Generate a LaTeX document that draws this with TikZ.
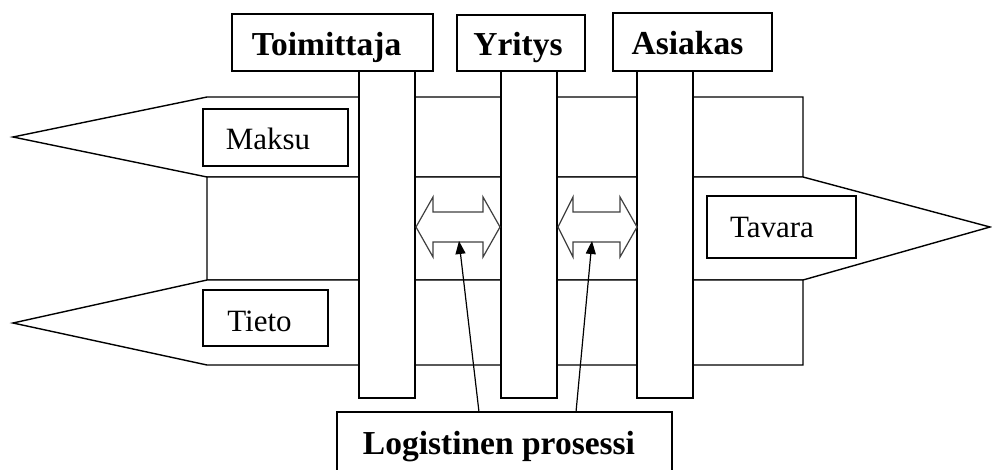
\documentclass[tikz,border=0pt]{standalone}
\usepackage{fontspec}
\setmainfont{Liberation Serif}
\usetikzlibrary{arrows.meta}
\tikzset{
  line/.style={draw=black, line width=1.4pt},
  band/.style={line, fill=white, line join=miter},
  column/.style={line, fill=white},
  headbox/.style={line, fill=white},
  labelbox/.style={line, fill=white},
  headtext/.style={font=\bfseries\fontsize{33.5}{36}\selectfont, anchor=base, inner sep=0pt},
  labeltext/.style={font=\fontsize{31}{34}\selectfont, anchor=base, inner sep=0pt},
  flowarrow/.style={draw=black!75, line width=1.2pt, fill=white, line join=miter},
  pointer/.style={draw=black, line width=1.2pt, -{Triangle[length=13pt,width=10pt]}},
}
\begin{document}
\begin{tikzpicture}[x=1pt,y=-1pt]
\useasboundingbox (0,0) rectangle (992,469);
\clip (0,0) rectangle (992,469);

% flows: payment (top), goods (middle), information (bottom)
\draw[band] (13,137) -- (207,97) -- (803,97) -- (803,177) -- (207,177) -- cycle;
\draw[band] (207,177) -- (803,177) -- (990,227) -- (803,280) -- (207,280) -- cycle;
\draw[band] (13,323) -- (207,280) -- (803,280) -- (803,365) -- (207,365) -- cycle;

% actor columns
\draw[column] (359,71) rectangle (415,398);
\draw[column] (501,71) rectangle (557,398);
\draw[column] (637,71) rectangle (693,398);

% actor headers
\draw[headbox] (232,14) rectangle (433,71);
\node[headtext] (toim) at (326.5,55) {Toimittaja};
\draw[headbox] (457,15) rectangle (585,71);
\node[headtext] (yri) at (518,55) {Yritys};
\draw[headbox] (613,13) rectangle (772,71);
\node[headtext] (asi) at (687.5,54) {Asiakas};

% flow labels
\draw[labelbox] (203,109) rectangle (348,166);
\node[labeltext] (maksu) at (268,149) {Maksu};
\draw[labelbox] (203,290) rectangle (328,346);
\node[labeltext] (tieto) at (259.5,331) {Tieto};
\draw[labelbox] (707,196) rectangle (856,258);
\node[labeltext] (tavara) at (772,237) {Tavara};

% two-way exchanges between the actors
\draw[flowarrow] (416,227) -- (433,197) -- (433,212) -- (483,212) -- (483,197)
  -- (500,227) -- (483,257) -- (483,242) -- (433,242) -- (433,257) -- cycle;
\draw[flowarrow] (558,227) -- (573,197) -- (573,212) -- (620,212) -- (620,197)
  -- (637,227) -- (620,257) -- (620,242) -- (573,242) -- (573,257) -- cycle;
\coordinate (ex1) at (459,241);
\coordinate (ex2) at (592,241);

% logistics process box
\draw[line, fill=white] (337,412) rectangle (672,480);
\node[headtext] (logi) at (499,454) {Logistinen prosessi};
\coordinate (lp1) at (479,412);
\coordinate (lp2) at (576,412);

\draw[pointer] (lp1) -- (ex1);
\draw[pointer] (lp2) -- (ex2);
\end{tikzpicture}
\end{document}
